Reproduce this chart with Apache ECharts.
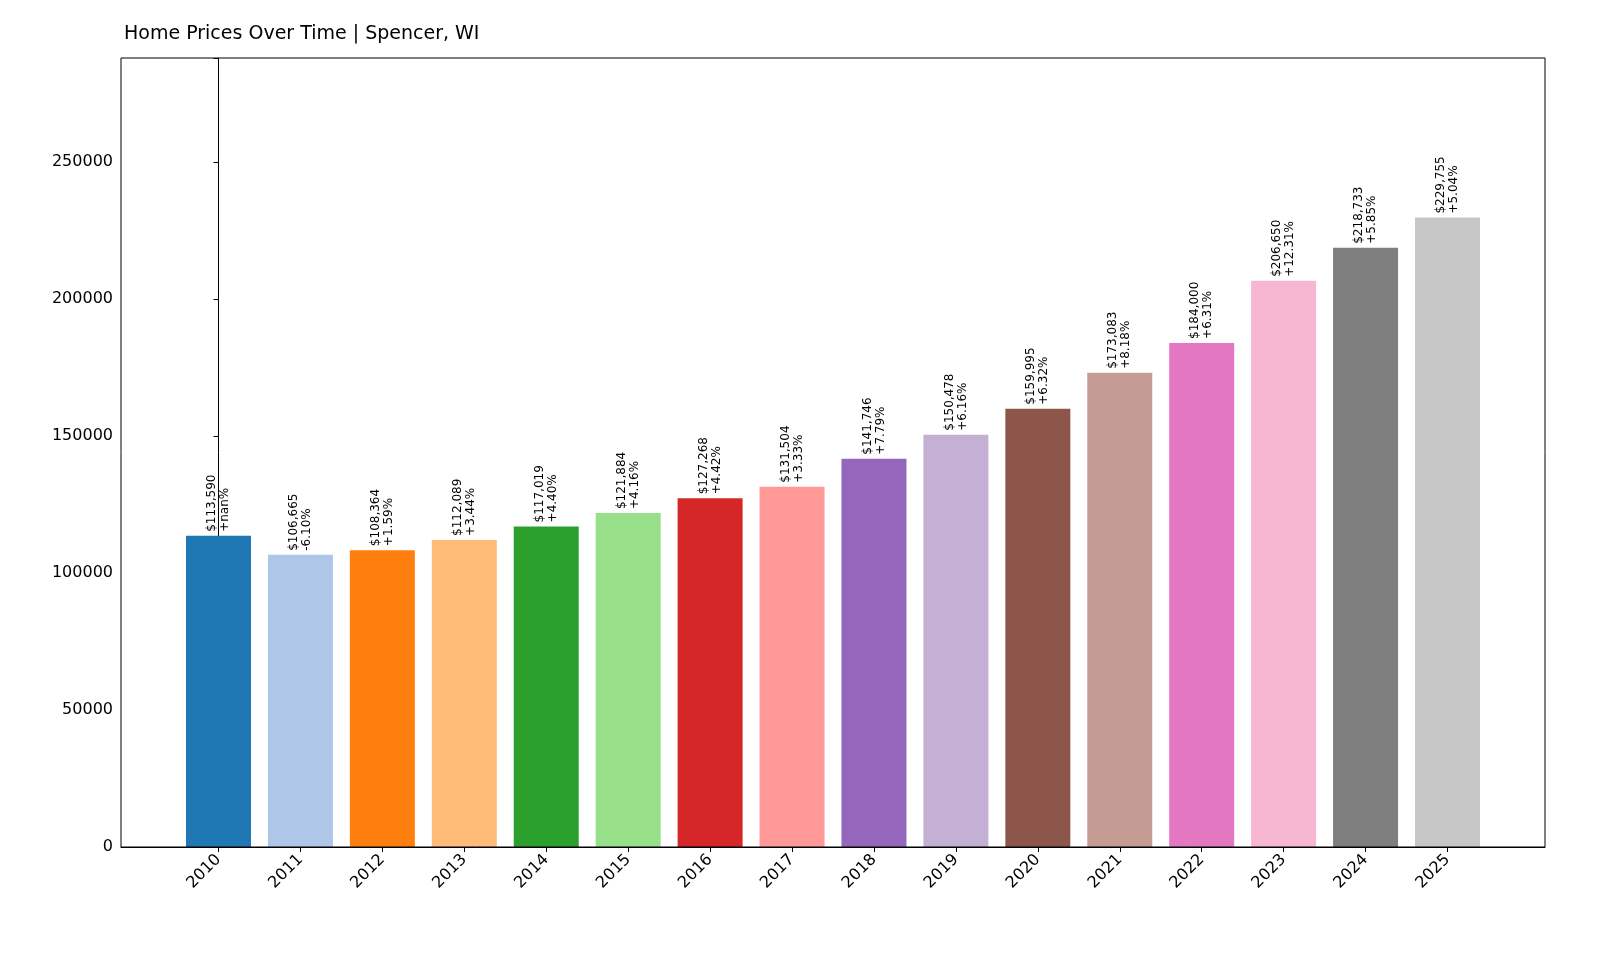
<!DOCTYPE html>
<html>
<head>
<meta charset="utf-8">
<script src="https://cdn.jsdelivr.net/npm/echarts@6/dist/echarts.min.js"></script>
<style>html,body{margin:0;padding:0;background:#fff}#chart{width:1600px;height:960px}</style>
</head>
<body>
<div id="chart"></div>
<script>
var years = ['2010','2011','2012','2013','2014','2015','2016','2017','2018','2019','2020','2021','2022','2023','2024','2025'];
var prices = [113590,106665,108364,112089,117019,121884,127268,131504,141746,150478,159995,173083,184000,206650,218733,229755];
var changes = ['+nan%','-6.10%','+1.59%','+3.44%','+4.40%','+4.16%','+4.42%','+3.33%','+7.79%','+6.16%','+6.32%','+8.18%','+6.31%','+12.31%','+5.85%','+5.04%'];
var colors = ['#1f77b4','#aec7e8','#ff7f0e','#ffbb78','#2ca02c','#98df8a','#d62728','#ff9896','#9467bd','#c5b0d5','#8c564b','#c49c94','#e377c2','#f7b6d2','#7f7f7f','#c7c7c7'];

var chart = echarts.init(document.getElementById('chart'));
var idx = years.map(function (y, i) { return i; });

var option = {
  animation: false,
  title: {
    text: 'Home Prices Over Time | Spencer, WI',
    left: 119, top: 20,
    textStyle: { fontFamily: 'DejaVu Sans', fontSize: 19, fontWeight: 'normal', color: '#000' }
  },
  grid: { left: 121, right: 55, top: 58, bottom: 113 },
  xAxis: {
    type: 'value', min: -1.19, max: 16.19,
    splitLine: { show: false },
    axisLine: { onZero: false, lineStyle: { color: '#000' } },
    axisTick: { show: true, customValues: idx, length: 5, lineStyle: { color: '#000' } },
    axisLabel: {
      customValues: idx, rotate: 45, margin: 10,
      fontFamily: 'DejaVu Sans', fontSize: 16, color: '#000',
      formatter: function (v) { return years[Math.round(v)]; }
    }
  },
  yAxis: {
    type: 'value', min: 0, max: 288000, interval: 50000,
    splitLine: { show: false },
    axisLine: { show: true, lineStyle: { color: '#000' } },
    axisTick: { show: true, length: 5, lineStyle: { color: '#000' } },
    axisLabel: {
      fontFamily: 'DejaVu Sans', fontSize: 16, color: '#000',
      formatter: function (v) { return v % 50000 === 0 ? String(v) : ''; }
    }
  },
  series: [{
    type: 'bar',
    barWidth: 65,
    data: prices.map(function (p, i) {
      return { value: [i, p], itemStyle: { color: colors[i] } };
    }),
    label: {
      show: true, position: 'top', rotate: 90, align: 'left', verticalAlign: 'middle',
      distance: 4, fontFamily: 'DejaVu Sans', fontSize: 12, color: '#000', lineHeight: 13,
      formatter: function (p) {
        return '$' + prices[p.dataIndex].toLocaleString('en-US') + '\n' + changes[p.dataIndex];
      }
    }
  }],
  graphic: [{
    type: 'rect', shape: { x: 121, y: 58, width: 1424, height: 789 },
    style: { fill: 'none', stroke: '#000', lineWidth: 1 }, silent: true, z: 100
  }]
};
chart.setOption(option);
</script>
</body>
</html>
